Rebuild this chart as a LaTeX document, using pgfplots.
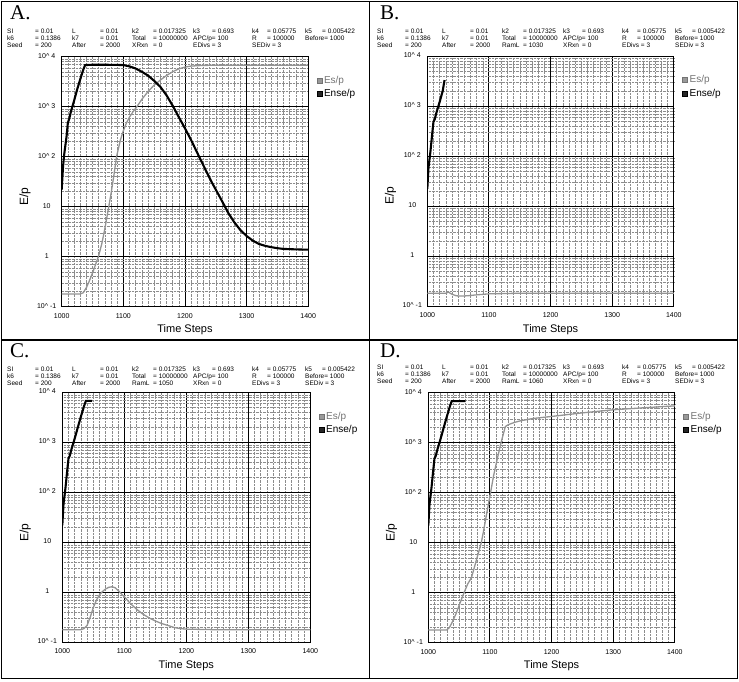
\documentclass[border=0pt]{standalone}
\usepackage{pgfplots}
\pgfplotsset{compat=1.18}
\usepackage{fontspec}
\setmainfont{Liberation Sans}
\newfontfamily\serifA{Liberation Serif}

\pgfplotsset{
  mypanel/.style={
    scale only axis, width=246.5pt, height=250pt,
    xmin=1000, xmax=1400, ymin=0.1, ymax=10000,
    xtick={1000,1100,1200,1300,1400},
    xticklabels={1000,1100,1200,1300,1400},
    minor x tick num=9,
    ytick={0.1,1,10,100,1000,10000},
    yticklabels={10\textasciicircum\ -1,1,10,10\textasciicircum\ 2,10\textasciicircum\ 3,10\textasciicircum\ 4},
    minor ytick={0.2,0.3,0.4,0.5,0.6,0.7,0.8,0.9,2,3,4,5,6,7,8,9,20,30,40,50,60,70,80,90,200,300,400,500,600,700,800,900,2000,3000,4000,5000,6000,7000,8000,9000},
    grid=both,
    major grid style={black, line width=0.9pt},
    minor grid style={black!45, densely dotted, line width=0.45pt},
    axis line style={black, line width=0.7pt},
    major tick length=0pt, minor tick length=0pt,
    tick label style={font=\fontsize{7}{8}\selectfont},
    yticklabel style={anchor=center, xshift=-15pt, yshift=1pt},
    xticklabel style={yshift=-3pt},
    xlabel={Time Steps},
    xlabel style={font=\fontsize{11}{13}\selectfont, at={(axis description cs:0.5,-0.093)}, anchor=center},
    ylabel={E/p},
    ylabel style={font=\fontsize{12}{14}\selectfont, at={(axis description cs:-0.149,0.44)}, anchor=center},
    legend cell align=left,
    legend style={at={(1.035,0.93)}, anchor=north west, draw=none, fill=none,
      font=\fontsize{10}{12}\selectfont, row sep=0.5pt, inner sep=0pt},
  },
  esp/.style={color=black!42, line width=1.3pt, forget plot},
  ense/.style={color=black, line width=2.1pt, forget plot},
}

\newcommand{\legendpair}{%
  \addlegendimage{only marks, mark=square*, mark size=2.5pt, mark options={fill=black!40, draw=black!55}}
  \addlegendentry{\textcolor{black!55}{Es/p}}
  \addlegendimage{only marks, mark=square*, mark size=2.5pt, mark options={fill=black!85, draw=black}}
  \addlegendentry{Ense/p}
}

% #1 x (pt, image coords), #2 y (pt, image coords from top), #3 text
\newcommand{\prm}[3]{\node[anchor=base west, inner sep=0pt, font=\fontsize{6.5}{7}\selectfont] at ({(#1)*1pt},{(682-(#2))*1pt}) {#3};}
\newcommand{\rowsAB}[2]{%
  \prm{#1+7}{#2+34}{SI}\prm{#1+35}{#2+34}{= 0.01}\prm{#1+72}{#2+34}{L}\prm{#1+100}{#2+34}{= 0.01}%
  \prm{#1+132}{#2+34}{k2}\prm{#1+153}{#2+34}{= 0.017325}\prm{#1+193}{#2+34}{k3}\prm{#1+212}{#2+34}{= 0.693}%
  \prm{#1+252}{#2+34}{k4}\prm{#1+267}{#2+34}{= 0.05775}\prm{#1+305}{#2+34}{k5}\prm{#1+322}{#2+34}{= 0.005422}%
  \prm{#1+7}{#2+41}{k6}\prm{#1+35}{#2+41}{= 0.1386}\prm{#1+72}{#2+41}{k7}\prm{#1+100}{#2+41}{= 0.01}%
  \prm{#1+132}{#2+41}{Total}\prm{#1+153}{#2+41}{= 10000000}\prm{#1+193}{#2+41}{APC/p= 100}%
  \prm{#1+252}{#2+41}{R}\prm{#1+267}{#2+41}{= 100000}\prm{#1+305}{#2+41}{Before= 1000}%
}
\newcommand{\rowthreeA}[2]{%
  \prm{#1+7}{#2+48}{Seed}\prm{#1+35}{#2+48}{= 200}\prm{#1+72}{#2+48}{After}\prm{#1+100}{#2+48}{= 2000}%
  \prm{#1+132}{#2+48}{XRxn}\prm{#1+153}{#2+48}{= 0}\prm{#1+193}{#2+48}{EDivs = 3}\prm{#1+252}{#2+48}{SEDiv = 3}%
}
\newcommand{\rowthree}[3]{%
  \prm{#1+7}{#2+48}{Seed}\prm{#1+35}{#2+48}{= 200}\prm{#1+72}{#2+48}{After}\prm{#1+100}{#2+48}{= 2000}%
  \prm{#1+132}{#2+48}{RamL}\prm{#1+153}{#2+48}{= #3}\prm{#1+193}{#2+48}{XRxn}\prm{#1+212}{#2+48}{= 0}%
  \prm{#1+252}{#2+48}{EDivs = 3}\prm{#1+305}{#2+48}{SEDiv = 3}%
}

\begin{document}
\begin{tikzpicture}
\useasboundingbox (0pt,0pt) rectangle (739pt,682pt);
\draw[line width=1.2pt] (1.5pt,3.5pt) rectangle (737.5pt,680.5pt);
\draw[line width=1.2pt] (369.5pt,3.5pt) -- (369.5pt,680.5pt);
\draw[line width=1.2pt] (1.5pt,342pt) -- (737.5pt,342pt);

\node[anchor=base west, inner sep=0pt, font=\serifA\fontsize{21}{23}\selectfont] at (10pt,662pt) {A.};
\node[anchor=base west, inner sep=0pt, font=\serifA\fontsize{21}{23}\selectfont] at (380pt,662pt) {B.};
\node[anchor=base west, inner sep=0pt, font=\serifA\fontsize{21}{23}\selectfont] at (10pt,324pt) {C.};
\node[anchor=base west, inner sep=0pt, font=\serifA\fontsize{21}{23}\selectfont] at (380pt,324pt) {D.};

\rowsAB{0}{0}\rowthreeA{0}{0}
\rowsAB{370}{0}\rowthree{370}{0}{1030}
\rowsAB{0}{338}\rowthree{0}{338}{1050}
\rowsAB{370}{336}\rowthree{370}{336}{1060}

\begin{axis}[ymode=log, mypanel, at={(61.7pt,375.3pt)}, anchor=south west]
\legendpair
\addplot[esp] coordinates {
(1000,0.18) (1030,0.18) (1035,0.19) (1040,0.24) (1045,0.33) (1050,0.47) (1055,0.7)
(1060,1.05) (1065,1.8) (1070,3.6) (1075,8) (1080,18) (1085,45) (1089,100) (1095,210)
(1100,330) (1105,470) (1110,620) (1116,800) (1122,1000) (1130,1400) (1140,2000)
(1150,2700) (1160,3400) (1170,4200) (1180,5000) (1190,5700) (1200,6200) (1210,6500)
(1230,6700) (1260,6750) (1400,6750)};
\addplot[ense] coordinates {
(1000,22) (1002,60) (1004,110) (1008,260) (1010,480) (1012,560) (1015,800) (1020,1300)
(1025,2200) (1030,3500) (1035,5500) (1038,6800) (1050,6900) (1070,6900) (1090,6850)
(1100,6800) (1110,6400) (1120,5800) (1130,5000) (1140,4200) (1150,3300) (1160,2500)
(1170,1700) (1181,1000) (1190,620) (1200,370) (1210,215) (1223,100) (1235,50)
(1244,30) (1255,17) (1265,10) (1270,7.6) (1280,4.9) (1290,3.4) (1300,2.6) (1310,2.1)
(1320,1.8) (1330,1.65) (1340,1.55) (1350,1.48) (1360,1.43) (1380,1.4) (1400,1.38)};
\end{axis}

\begin{axis}[ymode=log, mypanel, at={(427.3pt,376pt)}, anchor=south west]
\legendpair
\addplot[esp] coordinates {
(1000,0.18) (1030,0.18) (1034,0.19) (1040,0.172) (1047,0.16) (1054,0.158) (1065,0.16)
(1080,0.167) (1100,0.175) (1150,0.18) (1400,0.18)};
\addplot[ense] coordinates {
(1000,22) (1002,60) (1005,120) (1008,280) (1010,480) (1012,540) (1015,750)
(1020,1200) (1025,2000) (1028,3300)};
\end{axis}

\begin{axis}[ymode=log, mypanel, width=248pt, at={(62.3pt,39.5pt)}, anchor=south west]
\legendpair
\addplot[esp] coordinates {
(1000,0.18) (1030,0.18) (1035,0.19) (1040,0.22) (1045,0.32) (1050,0.5) (1055,0.7)
(1060,0.9) (1065,1.05) (1070,1.18) (1075,1.27) (1080,1.3) (1085,1.25) (1090,1.1)
(1095,0.95) (1100,0.82) (1110,0.6) (1120,0.46) (1130,0.37) (1140,0.31) (1150,0.27)
(1160,0.24) (1170,0.22) (1180,0.2) (1190,0.19) (1200,0.185) (1250,0.18) (1400,0.18)};
\addplot[ense] coordinates {
(1000,22) (1002,60) (1005,120) (1008,280) (1010,480) (1012,540) (1015,750)
(1020,1200) (1025,2000) (1030,3300) (1035,5300) (1038,6800) (1048,6800)};
\end{axis}

\begin{axis}[ymode=log, mypanel, at={(428.3pt,39.3pt)}, anchor=south west]
\legendpair
\addplot[esp] coordinates {
(1000,0.18) (1030,0.18) (1034,0.2) (1038,0.245) (1045,0.38) (1051,0.6) (1058,1.0)
(1064,1.5) (1070,2.0) (1075,3.3) (1080,5.5) (1086,10) (1090,18) (1095,40) (1101,100)
(1106,220) (1112,480) (1118,1000) (1125,2100) (1130,2300) (1140,2550) (1150,2750)
(1170,3050) (1200,3350) (1250,3950) (1300,4550) (1350,5000) (1400,5450)};
\addplot[ense] coordinates {
(1000,22) (1002,60) (1005,120) (1008,280) (1010,480) (1012,540) (1015,750)
(1020,1200) (1025,2000) (1030,3300) (1035,5300) (1038,6800) (1060,6800)};
\end{axis}
\end{tikzpicture}
\end{document}
